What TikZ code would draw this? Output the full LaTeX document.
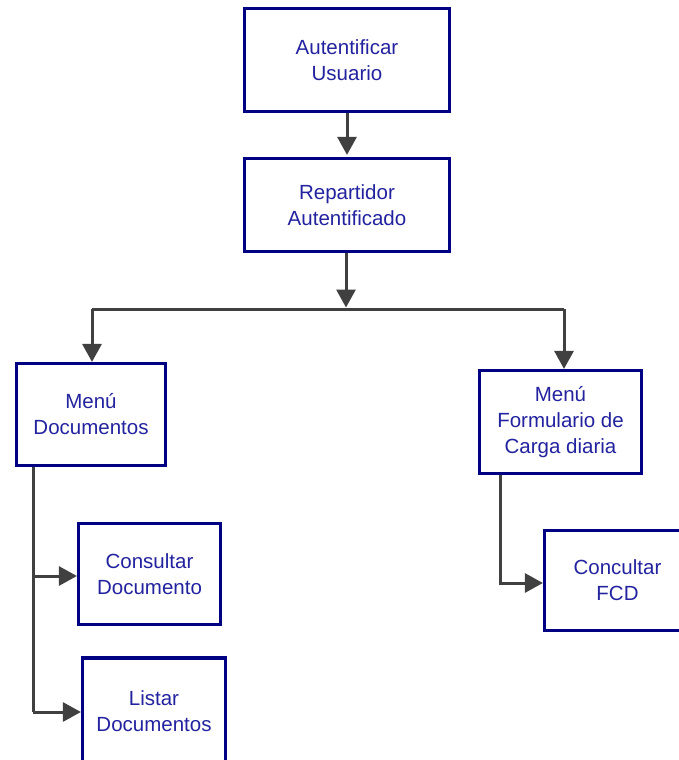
\documentclass[tikz,border=0pt]{standalone}
\usepackage{fontspec}
\setmainfont{Liberation Sans}
\usetikzlibrary{arrows.meta}
\definecolor{boxline}{RGB}{0,0,130}
\definecolor{boxtext}{RGB}{35,35,160}
\definecolor{conncol}{RGB}{64,64,64}
\tikzset{
  stepbox/.style={draw=boxline, line width=3.2pt, fill=white, rectangle,
    align=center, text=boxtext, inner sep=0pt,
    font=\fontsize{20.5}{26}\selectfont},
  conn/.style={draw=conncol, line width=3pt},
  arr/.style={conn, -{Triangle[length=18pt,width=19pt]}},
}
\begin{document}
\begin{tikzpicture}[x=1pt,y=-1pt]
  \clip (0,0) rectangle (679,760);
  \fill[white] (0,0) rectangle (679,760);

  % boxes
  \node[stepbox, minimum width=205pt, minimum height=103pt] (auth) at (347,60) {Autentificar\\Usuario};
  \node[stepbox, minimum width=205pt, minimum height=93pt] (rep) at (347,205) {Repartidor\\Autentificado};
  \node[stepbox, minimum width=149pt, minimum height=102pt] (mdoc) at (91,414.5) {Menú\\Documentos};
  \node[stepbox, minimum width=162pt, minimum height=103pt] (mfcd) at (560.5,422) {Menú\\Formulario de\\Carga diaria};
  \node[stepbox, minimum width=142pt, minimum height=101pt] (cdoc) at (149.5,574) {Consultar\\Documento};
  \node[stepbox, minimum width=143pt, minimum height=106pt] (ldoc) at (154,711) {Listar\\Documentos};
  \node[stepbox, minimum width=146pt, minimum height=100pt] (cfcd) at (617.5,580.5) {Concultar\\FCD};

  % main flow
  \draw[arr, shorten >=2pt] (auth.south) -- (rep.north);
  \coordinate (bus) at (346,309);
  \coordinate (busL) at (92,309);
  \coordinate (busR) at (564,309);
  \draw[arr, shorten >=1.5pt] (rep.south -| bus) -- (bus);
  \draw[conn] (busL) -- (busR);
  \draw[arr] (busL) -- (busL |- mdoc.north);
  \draw[arr] (busR) -- (busR |- mfcd.north);

  % document menu branches
  \coordinate (t1) at (33,576);
  \coordinate (t2) at (33,712);
  \draw[conn] (t1 |- mdoc.south) -- (t2);
  \draw[arr] (t1) -- (t1 -| cdoc.west);
  \draw[arr] (t2) -- (t2 -| ldoc.west);

  % form menu branch
  \coordinate (f1) at (500,583);
  \draw[arr] (f1 |- mfcd.south) -- (f1) -- (f1 -| cfcd.west);
\end{tikzpicture}
\end{document}
